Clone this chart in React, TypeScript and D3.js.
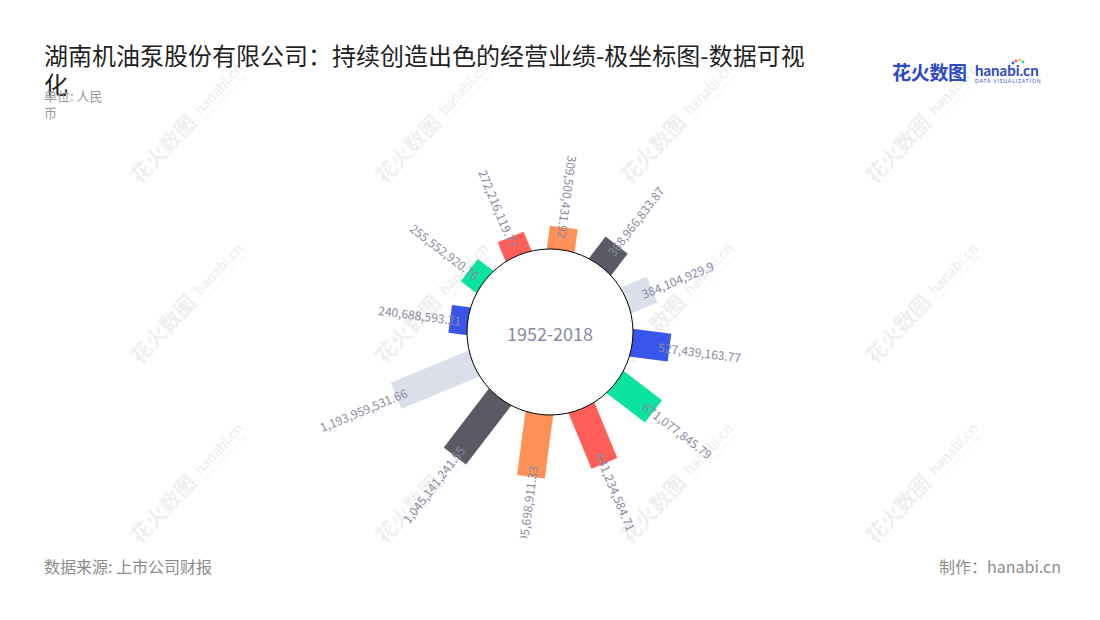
import React from 'react';
import * as d3 from 'd3';

// ---- data ----
const categories = ['1', '2', '3', '4', '5', '6', '7', '8', '9', '10', '11', '12'];
const values = [
  240688593.21, 255552920.76, 272216119.77, 309500431.92, 368966833.87, 384104929.9,
  527439163.77, 671077845.79, 841234584.71, 895698911.33, 1045141241.55, 1193959531.66,
];
const palette = ['#3a56ea', '#0be3a1', '#ff5f58', '#ff9056', '#5a5a64', '#dbdfea'];
const titleLines = ['湖南机油泵股份有限公司：持续创造出色的经营业绩-极坐标图-数据可视', '化'];
const unitLines = ['单位: 人民', '币'];
const centerLabel = '1952-2018';
const sourceText = '数据来源: 上市公司财报';
const makerText = '制作：hanabi.cn';

const W = 1100;
const H = 620;
const cx = 550;
const cy = 332;
const innerR = 83;
const FONT = '"Noto Sans CJK SC", "Noto Sans", sans-serif';
const LABEL = '#8a8aa3';

const fmt = (v: number) => v.toLocaleString('en-US', { maximumFractionDigits: 2 });

const Watermark: React.FC<{ x: number; y: number }> = ({ x, y }) => (
  <g transform={`translate(${x},${y}) rotate(-47)`} opacity={0.055} fill="#000">
    <text fontSize={21} fontWeight={700} fontFamily={FONT} x={0} y={0}>花火数图</text>
    <text fontSize={15} fontWeight={700} fontFamily="Lato, sans-serif" x={92} y={-3}>hanabi.cn</text>
    <text fontSize={4.5} fontFamily="Lato, sans-serif" x={92} y={4} letterSpacing={0.8}>DATA VISUALIZATION</text>
  </g>
);

export default function App() {
  const angle = d3
    .scaleBand<string>()
    .domain(categories)
    .range([262.5, 622.5]);
  const radius = d3.scaleLinear().domain([0, 1.2e9]).range([84, 167]);
  const barW = 28;

  const wmX = [140, 385, 630, 875];
  const wmY = [185, 365, 545];

  return (
    <svg
      width={W}
      height={H}
      style={{ position: 'absolute', left: 0, top: 0, background: '#fff' }}
      fontFamily={FONT}
    >
      <defs>
        <clipPath id="plotClip">
          <rect x={0} y={0} width={W} height={538} />
        </clipPath>
      </defs>
      <rect width={W} height={H} fill="#fff" />
      {wmY.map((yy) => wmX.map((xx) => <Watermark key={`${xx}-${yy}`} x={xx} y={yy} />))}

      {/* title */}
      {titleLines.map((t, i) => (
        <text key={i} x={44} y={65 + i * 29} fontSize={24} fill="#1f1f1f">
          {t}
        </text>
      ))}
      {unitLines.map((t, i) => (
        <text key={i} x={44} y={101 + i * 17} fontSize={13} fill="#999">
          {t}
        </text>
      ))}

      {/* logo */}
      <g>
        <text x={892} y={80} fontSize={19} fontWeight={700} fill="#2b49c4" letterSpacing={-0.3}>
          花火数图
        </text>
        <text x={975} y={76} fontSize={15} fontWeight={700} fill="#2b49c4" fontFamily="Lato, sans-serif">
          hanabi.cn
        </text>
        <text x={975} y={82.5} fontSize={5} fill="#2b49c4" fontFamily="Lato, sans-serif" letterSpacing={0.9}>
          DATA VISUALIZATION
        </text>
        <circle cx={1016} cy={61} r={1.4} fill="#ff5f58" />
        <circle cx={1020} cy={60} r={1.4} fill="#ffb13b" />
        <circle cx={1023} cy={62} r={1.4} fill="#0be3a1" />
        <circle cx={1013} cy={63} r={1.4} fill="#3a56ea" />
      </g>

      {/* bars + labels */}
      <g clipPath="url(#plotClip)">
        {values.map((v, i) => {
          const a = (angle(categories[i]) as number) + angle.bandwidth() / 2;
          const r = radius(v);
          return (
            <g key={`b${i}`} transform={`translate(${cx},${cy}) rotate(${a})`}>
              <rect x={-barW / 2} y={-r} width={barW} height={r - 60} fill={palette[i % palette.length]} />
            </g>
          );
        })}
        <circle cx={cx} cy={cy} r={innerR} fill="#fff" stroke="#000" strokeWidth={1} />
        {values.map((v, i) => {
          const a = (angle(categories[i]) as number) + angle.bandwidth() / 2;
          const am = ((a % 360) + 360) % 360;
          const r = radius(v);
          const outward = am > 22 && am < 172;
          return (
            <g key={`l${i}`} transform={`translate(${cx},${cy}) rotate(${a}) translate(0,${-(r - 11)})`}>
              <text
                transform={`rotate(${outward ? -90 : 90})`}
                textAnchor={outward ? 'start' : 'end'}
                dominantBaseline="central"
                fontSize={12}
                fill={LABEL}
              >
                {fmt(v)}
              </text>
            </g>
          );
        })}
      </g>

      <text x={cx} y={cy + 1} textAnchor="middle" dominantBaseline="central" fontSize={18} fill={LABEL}>
        {centerLabel}
      </text>

      {/* footer */}
      <text x={44} y={573} fontSize={16} fill="#8c8c8c">
        {sourceText}
      </text>
      <text x={1061} y={573} fontSize={16} fill="#8c8c8c" textAnchor="end">
        {makerText}
      </text>
    </svg>
  );
}
